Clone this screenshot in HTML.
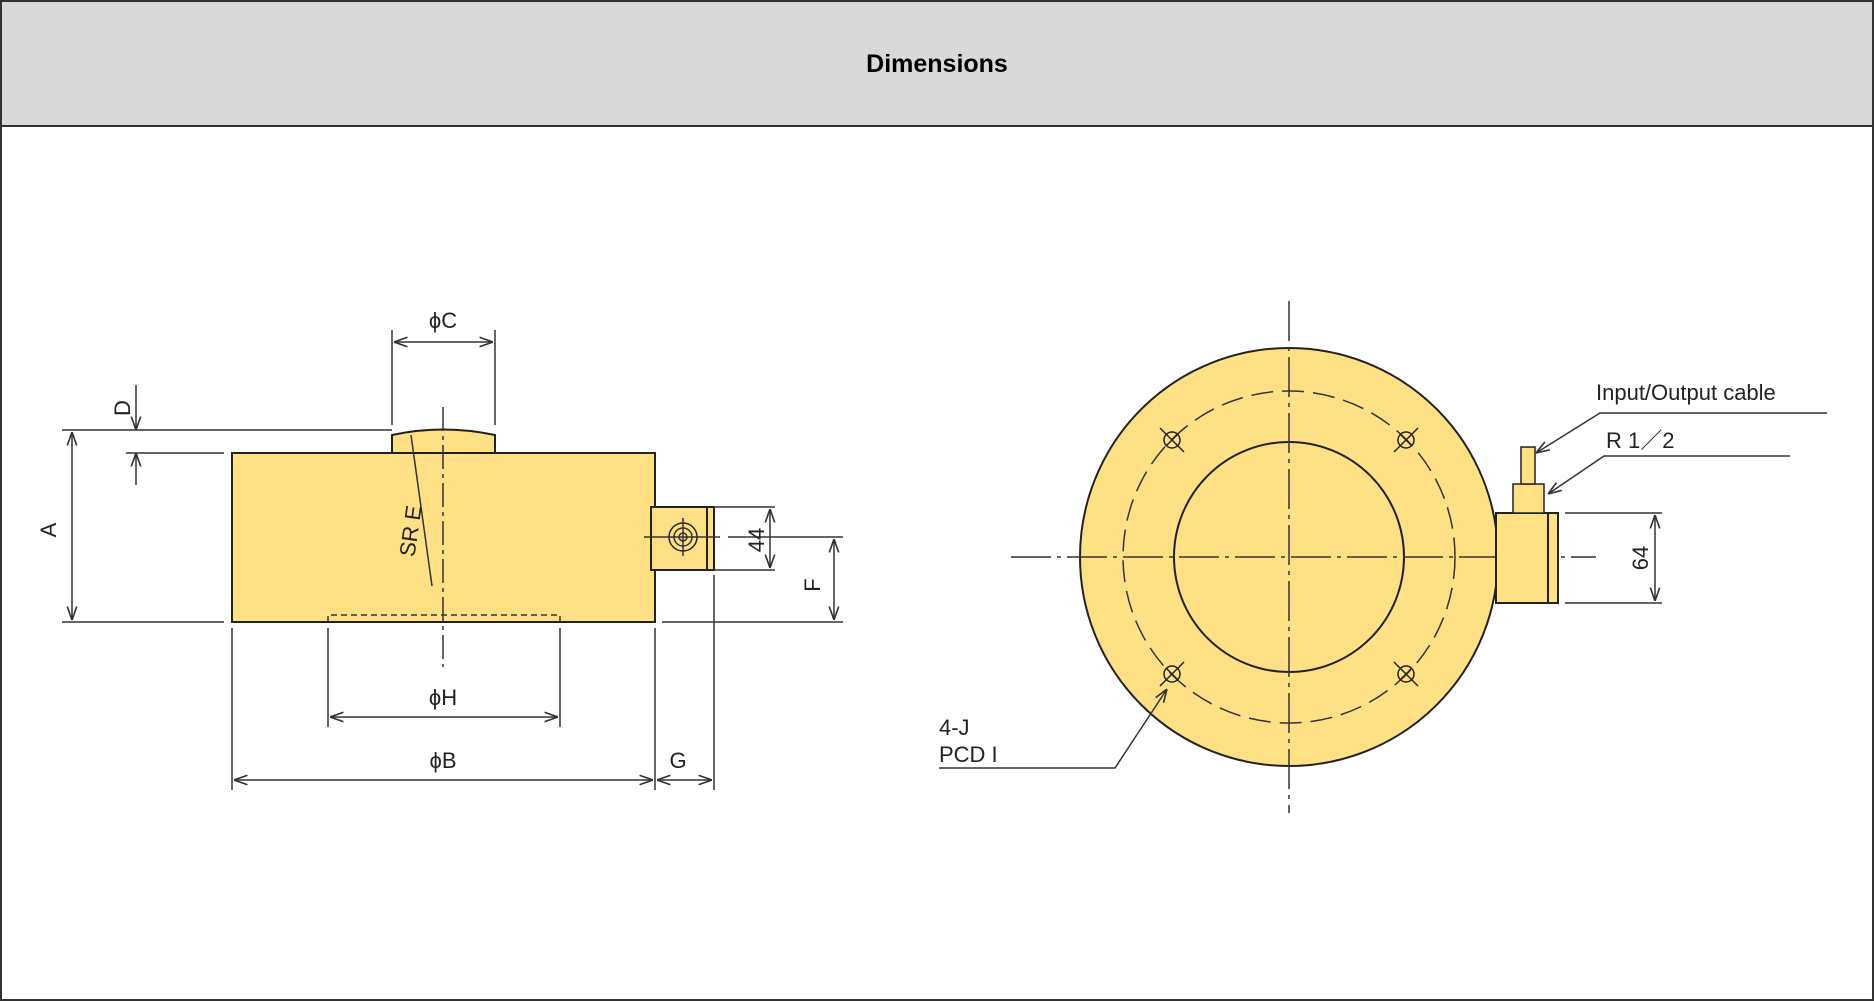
<!DOCTYPE html>
<html><head><meta charset="utf-8"><style>
body{margin:0;width:1874px;height:1001px;background:#fff;overflow:hidden}
svg{display:block}
text{font-family:"Liberation Sans",Arial,sans-serif;fill:#222}
</style></head><body>
<svg width="1874" height="1001" viewBox="0 0 1874 1001">
<defs><marker id="a" viewBox="0 0 10 10" refX="10" refY="5" markerWidth="9" markerHeight="9" orient="auto-start-reverse"><path d="M0,1.5 L10,5 L0,8.5" fill="none" stroke="#333" stroke-width="1.2"/></marker></defs>
<rect x="1" y="1" width="1872" height="999" fill="#fff" stroke="#333" stroke-width="2"/>
<rect x="1" y="1" width="1872" height="125" fill="#d9d9d9" stroke="#333" stroke-width="2"/>
<text x="937" y="72" text-anchor="middle" font-size="25" font-weight="bold" style="fill:#000">Dimensions</text>
<g stroke="#333" stroke-width="1.5" fill="none">
<!-- side view -->
<rect x="232" y="453" width="423" height="169" fill="#ffe085" stroke="#222" stroke-width="2"/>
<path d="M392,453 V435 Q443,424 495,435 V453 Z" fill="#ffe085" stroke="#222" stroke-width="2"/>
<path d="M328,622 V615 H560 V622" stroke-dasharray="6,4"/>
<path d="M443,407 V667" stroke-dasharray="24,5,4,5"/>
<path d="M411,435 L432,586"/>
<rect x="651" y="507" width="56" height="63" fill="#ffe085" stroke="#222" stroke-width="2"/>
<rect x="707" y="507" width="7" height="63" fill="#ffe085" stroke="#222" stroke-width="2"/>
<circle cx="683" cy="537" r="14" stroke="#222"/><circle cx="683" cy="537" r="9"/><circle cx="683" cy="537" r="4"/>
<path d="M644,537 H720 M683,518 V556"/>
<!-- dims -->
<path d="M62,430 H392 M126,453 H224 M62,622 H224"/>
<path d="M136,385 V430" marker-end="url(#a)"/><path d="M136,485 V453" marker-end="url(#a)"/>
<path d="M72,432 V620" marker-start="url(#a)" marker-end="url(#a)"/>
<path d="M392,330 V425 M495,330 V425"/>
<path d="M394,342 H493" marker-start="url(#a)" marker-end="url(#a)"/>
<path d="M714,507 H775 M714,570 H775"/>
<path d="M770,509 V568" marker-start="url(#a)" marker-end="url(#a)"/>
<path d="M728,537 H843 M662,622 H843"/>
<path d="M834,539 V620" marker-start="url(#a)" marker-end="url(#a)"/>
<path d="M328,628 V727 M560,628 V727"/>
<path d="M330,717 H558" marker-start="url(#a)" marker-end="url(#a)"/>
<path d="M232,628 V790 M655,628 V790 M714,575 V790"/>
<path d="M234,780 H653" marker-start="url(#a)" marker-end="url(#a)"/>
<path d="M657,780 H712" marker-start="url(#a)" marker-end="url(#a)"/>
<!-- top view -->
<circle cx="1289" cy="557" r="209" fill="#ffe085" stroke="#222" stroke-width="2"/>
<circle cx="1289" cy="557" r="166" stroke-dasharray="22,9"/>
<circle cx="1289" cy="557" r="115" stroke="#222" stroke-width="2"/>
<path d="M1289,301 V813" stroke-dasharray="40,6,4,6"/>
<path d="M1011,557 H1596" stroke-dasharray="40,6,4,6"/>
<g stroke="#222">
<circle cx="1172" cy="440" r="8"/><path d="M1166,434 L1178,446 M1178,434 L1166,446 M1160,428 L1184,452"/>
<circle cx="1406" cy="440" r="8"/><path d="M1400,434 L1412,446 M1412,434 L1400,446 M1418,428 L1394,452"/>
<circle cx="1172" cy="674" r="8"/><path d="M1166,668 L1178,680 M1178,668 L1166,680 M1160,686 L1184,662"/>
<circle cx="1406" cy="674" r="8"/><path d="M1400,668 L1412,680 M1412,668 L1400,680 M1394,662 L1418,686"/>
</g>
<rect x="1496" y="513" width="52" height="90" fill="#ffe085" stroke="#222" stroke-width="2"/>
<rect x="1548" y="513" width="10" height="90" fill="#ffe085" stroke="#222" stroke-width="2"/>
<rect x="1513" y="484" width="31" height="29" fill="#ffe085" stroke="#222"/>
<rect x="1521" y="447" width="14" height="37" fill="#ffe085" stroke="#222"/>
<path d="M1565,513 H1662 M1565,603 H1662"/>
<path d="M1655,515 V601" marker-start="url(#a)" marker-end="url(#a)"/>
<path d="M1827,413 H1600 L1536,453" marker-end="url(#a)"/>
<path d="M1790,456 H1604 L1548,494" marker-end="url(#a)"/>
<path d="M939,768 H1115 L1167,689" marker-end="url(#a)"/>
</g>
<g font-size="22">
<text x="443" y="328" text-anchor="middle">ϕC</text>
<text x="443" y="705" text-anchor="middle">ϕH</text>
<text x="443" y="768" text-anchor="middle">ϕB</text>
<text x="678" y="768" text-anchor="middle">G</text>
<text transform="translate(130,408) rotate(-90)" text-anchor="middle">D</text>
<text transform="translate(56,530) rotate(-90)" text-anchor="middle">A</text>
<text transform="translate(418,532) rotate(-82)" text-anchor="middle">SR E</text>
<text transform="translate(764,540) rotate(-90)" text-anchor="middle">44</text>
<text transform="translate(820,585) rotate(-90)" text-anchor="middle">F</text>
<text transform="translate(1648,558) rotate(-90)" text-anchor="middle">64</text>
<text x="1596" y="400">Input/Output cable</text>
<text x="1606" y="448">R 1／2</text>
<text x="939" y="735">4-J</text>
<text x="939" y="762">PCD I</text>
</g>
</svg>
</body></html>
